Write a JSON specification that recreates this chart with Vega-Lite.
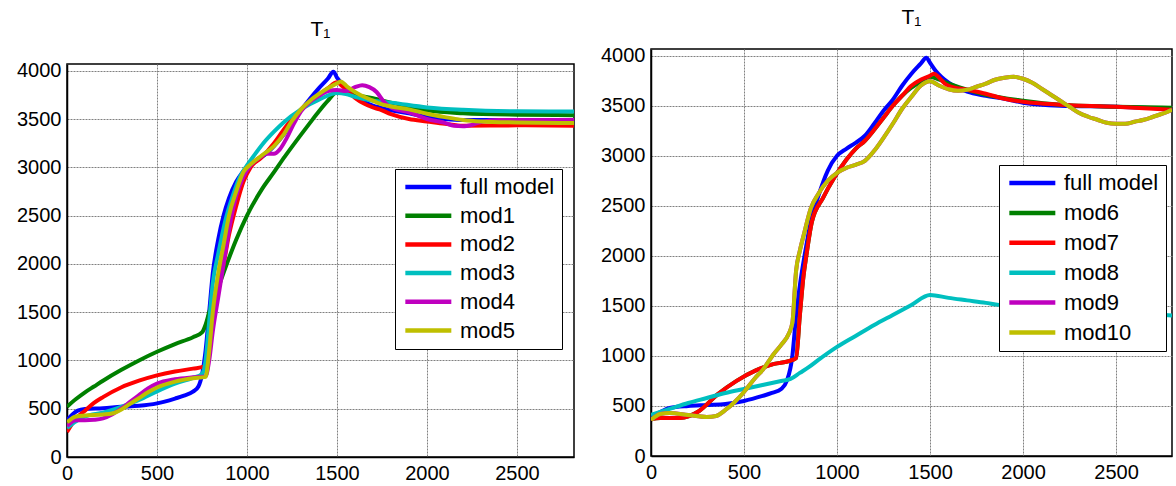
{
  "$schema": "https://vega.github.io/schema/vega-lite/v6.json",
  "padding": {"left": 15, "top": 6, "right": 0, "bottom": 0},
  "background": "white",
  "config": {
    "font": "Liberation Sans",
    "view": {"stroke": "black", "strokeWidth": 1.5},
    "axis": {"labelFont": "Liberation Sans", "labelFontSize": 20, "labelColor": "black", "domainColor": "black", "domainWidth": 1.5, "ticks": false, "labelPadding": 6, "gridColor": "#808080", "gridDash": [2, 1], "gridWidth": 1, "labelFlush": false, "labelOverlap": false, "format": "d"},
    "title": {"font": "Liberation Sans", "fontSize": 21, "fontWeight": "normal", "color": "black", "anchor": "middle"},
    "legend": {"labelFont": "Liberation Sans", "labelFontSize": 22, "labelColor": "black", "strokeColor": "black", "fillColor": "white", "padding": 7, "symbolType": "M-1,0H5", "symbolSize": 235, "symbolStrokeWidth": 4.5, "labelOffset": 36, "symbolOffset": 0, "title": null}
  },
  "spacing": 24,
  "resolve": {"scale": {"color": "independent"}, "legend": {"color": "independent"}},
  "datasets": {
    "L": [
      {"s":"full model","x":0,"y":380},{"s":"full model","x":30,"y":440},{"s":"full model","x":60,"y":480},{"s":"full model","x":100,"y":496},{"s":"full model","x":200,"y":505},{"s":"full model","x":300,"y":520},{"s":"full model","x":400,"y":530},{"s":"full model","x":500,"y":555},{"s":"full model","x":600,"y":605},{"s":"full model","x":650,"y":635},{"s":"full model","x":700,"y":677},{"s":"full model","x":730,"y":730},{"s":"full model","x":750,"y":850},{"s":"full model","x":770,"y":1100},{"s":"full model","x":790,"y":1500},{"s":"full model","x":810,"y":1900},{"s":"full model","x":840,"y":2250},{"s":"full model","x":870,"y":2500},{"s":"full model","x":900,"y":2680},{"s":"full model","x":940,"y":2850},{"s":"full model","x":980,"y":2960},{"s":"full model","x":1020,"y":3040},{"s":"full model","x":1060,"y":3080},{"s":"full model","x":1100,"y":3130},{"s":"full model","x":1150,"y":3220},{"s":"full model","x":1200,"y":3330},{"s":"full model","x":1250,"y":3460},{"s":"full model","x":1300,"y":3590},{"s":"full model","x":1350,"y":3710},{"s":"full model","x":1400,"y":3820},{"s":"full model","x":1450,"y":3920},{"s":"full model","x":1480,"y":3990},{"s":"full model","x":1500,"y":3930},{"s":"full model","x":1550,"y":3830},{"s":"full model","x":1600,"y":3740},{"s":"full model","x":1650,"y":3680},{"s":"full model","x":1700,"y":3640},{"s":"full model","x":1737,"y":3620},{"s":"full model","x":1800,"y":3590},{"s":"full model","x":1900,"y":3560},{"s":"full model","x":2000,"y":3520},{"s":"full model","x":2100,"y":3500},{"s":"full model","x":2200,"y":3490},{"s":"full model","x":2300,"y":3490},{"s":"full model","x":2500,"y":3490},{"s":"full model","x":2817,"y":3490},
      {"s":"mod1","x":0,"y":520},{"s":"mod1","x":50,"y":600},{"s":"mod1","x":100,"y":670},{"s":"mod1","x":150,"y":730},{"s":"mod1","x":200,"y":790},{"s":"mod1","x":300,"y":900},{"s":"mod1","x":400,"y":1000},{"s":"mod1","x":500,"y":1090},{"s":"mod1","x":600,"y":1170},{"s":"mod1","x":700,"y":1240},{"s":"mod1","x":750,"y":1290},{"s":"mod1","x":770,"y":1370},{"s":"mod1","x":790,"y":1500},{"s":"mod1","x":830,"y":1700},{"s":"mod1","x":880,"y":1960},{"s":"mod1","x":940,"y":2250},{"s":"mod1","x":1000,"y":2500},{"s":"mod1","x":1085,"y":2780},{"s":"mod1","x":1150,"y":2950},{"s":"mod1","x":1210,"y":3110},{"s":"mod1","x":1293,"y":3320},{"s":"mod1","x":1350,"y":3460},{"s":"mod1","x":1400,"y":3580},{"s":"mod1","x":1450,"y":3690},{"s":"mod1","x":1500,"y":3780},{"s":"mod1","x":1550,"y":3770},{"s":"mod1","x":1600,"y":3750},{"s":"mod1","x":1700,"y":3715},{"s":"mod1","x":1800,"y":3670},{"s":"mod1","x":1900,"y":3630},{"s":"mod1","x":2000,"y":3590},{"s":"mod1","x":2200,"y":3560},{"s":"mod1","x":2500,"y":3545},{"s":"mod1","x":2817,"y":3540},
      {"s":"mod2","x":0,"y":260},{"s":"mod2","x":50,"y":400},{"s":"mod2","x":100,"y":480},{"s":"mod2","x":150,"y":560},{"s":"mod2","x":200,"y":620},{"s":"mod2","x":300,"y":720},{"s":"mod2","x":400,"y":790},{"s":"mod2","x":500,"y":845},{"s":"mod2","x":600,"y":885},{"s":"mod2","x":700,"y":915},{"s":"mod2","x":760,"y":935},{"s":"mod2","x":780,"y":1000},{"s":"mod2","x":800,"y":1300},{"s":"mod2","x":830,"y":1700},{"s":"mod2","x":870,"y":2000},{"s":"mod2","x":900,"y":2300},{"s":"mod2","x":940,"y":2600},{"s":"mod2","x":980,"y":2850},{"s":"mod2","x":1020,"y":3000},{"s":"mod2","x":1080,"y":3100},{"s":"mod2","x":1150,"y":3250},{"s":"mod2","x":1200,"y":3380},{"s":"mod2","x":1250,"y":3500},{"s":"mod2","x":1300,"y":3600},{"s":"mod2","x":1350,"y":3680},{"s":"mod2","x":1400,"y":3750},{"s":"mod2","x":1450,"y":3820},{"s":"mod2","x":1500,"y":3880},{"s":"mod2","x":1530,"y":3840},{"s":"mod2","x":1600,"y":3720},{"s":"mod2","x":1650,"y":3660},{"s":"mod2","x":1700,"y":3620},{"s":"mod2","x":1737,"y":3600},{"s":"mod2","x":1800,"y":3550},{"s":"mod2","x":1900,"y":3500},{"s":"mod2","x":2000,"y":3475},{"s":"mod2","x":2100,"y":3450},{"s":"mod2","x":2200,"y":3430},{"s":"mod2","x":2500,"y":3435},{"s":"mod2","x":2817,"y":3430},
      {"s":"mod3","x":0,"y":300},{"s":"mod3","x":50,"y":370},{"s":"mod3","x":100,"y":420},{"s":"mod3","x":200,"y":460},{"s":"mod3","x":300,"y":520},{"s":"mod3","x":400,"y":590},{"s":"mod3","x":500,"y":680},{"s":"mod3","x":600,"y":760},{"s":"mod3","x":700,"y":820},{"s":"mod3","x":750,"y":860},{"s":"mod3","x":770,"y":1000},{"s":"mod3","x":790,"y":1400},{"s":"mod3","x":810,"y":1800},{"s":"mod3","x":840,"y":2100},{"s":"mod3","x":880,"y":2450},{"s":"mod3","x":920,"y":2700},{"s":"mod3","x":960,"y":2900},{"s":"mod3","x":1000,"y":3020},{"s":"mod3","x":1050,"y":3150},{"s":"mod3","x":1100,"y":3270},{"s":"mod3","x":1150,"y":3370},{"s":"mod3","x":1200,"y":3460},{"s":"mod3","x":1300,"y":3600},{"s":"mod3","x":1400,"y":3700},{"s":"mod3","x":1500,"y":3770},{"s":"mod3","x":1550,"y":3760},{"s":"mod3","x":1600,"y":3730},{"s":"mod3","x":1700,"y":3690},{"s":"mod3","x":1800,"y":3670},{"s":"mod3","x":2000,"y":3620},{"s":"mod3","x":2200,"y":3595},{"s":"mod3","x":2500,"y":3580},{"s":"mod3","x":2817,"y":3578},
      {"s":"mod4","x":0,"y":320},{"s":"mod4","x":50,"y":380},{"s":"mod4","x":100,"y":380},{"s":"mod4","x":150,"y":385},{"s":"mod4","x":200,"y":400},{"s":"mod4","x":250,"y":440},{"s":"mod4","x":300,"y":500},{"s":"mod4","x":350,"y":570},{"s":"mod4","x":400,"y":640},{"s":"mod4","x":450,"y":710},{"s":"mod4","x":500,"y":760},{"s":"mod4","x":600,"y":805},{"s":"mod4","x":700,"y":825},{"s":"mod4","x":770,"y":835},{"s":"mod4","x":790,"y":1000},{"s":"mod4","x":810,"y":1300},{"s":"mod4","x":840,"y":1650},{"s":"mod4","x":870,"y":2000},{"s":"mod4","x":900,"y":2350},{"s":"mod4","x":940,"y":2700},{"s":"mod4","x":980,"y":2900},{"s":"mod4","x":1020,"y":3020},{"s":"mod4","x":1070,"y":3100},{"s":"mod4","x":1110,"y":3140},{"s":"mod4","x":1150,"y":3140},{"s":"mod4","x":1180,"y":3180},{"s":"mod4","x":1220,"y":3300},{"s":"mod4","x":1260,"y":3450},{"s":"mod4","x":1300,"y":3580},{"s":"mod4","x":1350,"y":3680},{"s":"mod4","x":1400,"y":3740},{"s":"mod4","x":1450,"y":3790},{"s":"mod4","x":1500,"y":3800},{"s":"mod4","x":1550,"y":3790},{"s":"mod4","x":1600,"y":3830},{"s":"mod4","x":1640,"y":3850},{"s":"mod4","x":1680,"y":3830},{"s":"mod4","x":1720,"y":3780},{"s":"mod4","x":1760,"y":3680},{"s":"mod4","x":1800,"y":3620},{"s":"mod4","x":1900,"y":3570},{"s":"mod4","x":2000,"y":3500},{"s":"mod4","x":2100,"y":3460},{"s":"mod4","x":2150,"y":3430},{"s":"mod4","x":2200,"y":3425},{"s":"mod4","x":2250,"y":3440},{"s":"mod4","x":2300,"y":3470},{"s":"mod4","x":2400,"y":3490},{"s":"mod4","x":2817,"y":3490},
      {"s":"mod5","x":0,"y":360},{"s":"mod5","x":50,"y":420},{"s":"mod5","x":100,"y":430},{"s":"mod5","x":200,"y":440},{"s":"mod5","x":250,"y":450},{"s":"mod5","x":300,"y":490},{"s":"mod5","x":350,"y":550},{"s":"mod5","x":400,"y":610},{"s":"mod5","x":450,"y":670},{"s":"mod5","x":500,"y":720},{"s":"mod5","x":600,"y":780},{"s":"mod5","x":700,"y":815},{"s":"mod5","x":770,"y":830},{"s":"mod5","x":790,"y":1100},{"s":"mod5","x":810,"y":1500},{"s":"mod5","x":840,"y":1900},{"s":"mod5","x":870,"y":2200},{"s":"mod5","x":900,"y":2500},{"s":"mod5","x":940,"y":2750},{"s":"mod5","x":980,"y":2950},{"s":"mod5","x":1020,"y":3030},{"s":"mod5","x":1080,"y":3120},{"s":"mod5","x":1150,"y":3220},{"s":"mod5","x":1200,"y":3330},{"s":"mod5","x":1250,"y":3480},{"s":"mod5","x":1300,"y":3600},{"s":"mod5","x":1350,"y":3690},{"s":"mod5","x":1400,"y":3760},{"s":"mod5","x":1450,"y":3820},{"s":"mod5","x":1500,"y":3870},{"s":"mod5","x":1520,"y":3890},{"s":"mod5","x":1560,"y":3830},{"s":"mod5","x":1600,"y":3780},{"s":"mod5","x":1700,"y":3690},{"s":"mod5","x":1737,"y":3660},{"s":"mod5","x":1800,"y":3630},{"s":"mod5","x":1900,"y":3600},{"s":"mod5","x":2000,"y":3555},{"s":"mod5","x":2100,"y":3520},{"s":"mod5","x":2200,"y":3490},{"s":"mod5","x":2300,"y":3475},{"s":"mod5","x":2500,"y":3465},{"s":"mod5","x":2817,"y":3458}
    ],
    "R": [
      {"s":"full model","x":0,"y":390},{"s":"full model","x":50,"y":440},{"s":"full model","x":100,"y":480},{"s":"full model","x":200,"y":500},{"s":"full model","x":300,"y":510},{"s":"full model","x":400,"y":520},{"s":"full model","x":500,"y":550},{"s":"full model","x":600,"y":600},{"s":"full model","x":650,"y":630},{"s":"full model","x":700,"y":670},{"s":"full model","x":730,"y":750},{"s":"full model","x":760,"y":1000},{"s":"full model","x":780,"y":1400},{"s":"full model","x":800,"y":1700},{"s":"full model","x":830,"y":2050},{"s":"full model","x":860,"y":2350},{"s":"full model","x":900,"y":2600},{"s":"full model","x":950,"y":2850},{"s":"full model","x":1000,"y":3000},{"s":"full model","x":1050,"y":3070},{"s":"full model","x":1100,"y":3130},{"s":"full model","x":1150,"y":3200},{"s":"full model","x":1200,"y":3320},{"s":"full model","x":1250,"y":3450},{"s":"full model","x":1300,"y":3560},{"s":"full model","x":1350,"y":3700},{"s":"full model","x":1400,"y":3820},{"s":"full model","x":1450,"y":3920},{"s":"full model","x":1480,"y":3980},{"s":"full model","x":1500,"y":3930},{"s":"full model","x":1530,"y":3850},{"s":"full model","x":1560,"y":3790},{"s":"full model","x":1600,"y":3730},{"s":"full model","x":1650,"y":3680},{"s":"full model","x":1700,"y":3640},{"s":"full model","x":1800,"y":3600},{"s":"full model","x":1900,"y":3570},{"s":"full model","x":2000,"y":3530},{"s":"full model","x":2200,"y":3500},{"s":"full model","x":2500,"y":3490},{"s":"full model","x":2801,"y":3470},
      {"s":"mod6","x":0,"y":370},{"s":"mod6","x":50,"y":380},{"s":"mod6","x":100,"y":380},{"s":"mod6","x":156,"y":380},{"s":"mod6","x":257,"y":447},{"s":"mod6","x":358,"y":616},{"s":"mod6","x":460,"y":751},{"s":"mod6","x":561,"y":853},{"s":"mod6","x":662,"y":920},{"s":"mod6","x":750,"y":954},{"s":"mod6","x":780,"y":980},{"s":"mod6","x":800,"y":1400},{"s":"mod6","x":820,"y":1800},{"s":"mod6","x":835,"y":2000},{"s":"mod6","x":865,"y":2340},{"s":"mod6","x":925,"y":2580},{"s":"mod6","x":985,"y":2780},{"s":"mod6","x":1050,"y":2960},{"s":"mod6","x":1100,"y":3070},{"s":"mod6","x":1150,"y":3150},{"s":"mod6","x":1200,"y":3260},{"s":"mod6","x":1250,"y":3380},{"s":"mod6","x":1300,"y":3500},{"s":"mod6","x":1350,"y":3600},{"s":"mod6","x":1400,"y":3680},{"s":"mod6","x":1450,"y":3740},{"s":"mod6","x":1500,"y":3790},{"s":"mod6","x":1550,"y":3760},{"s":"mod6","x":1600,"y":3720},{"s":"mod6","x":1700,"y":3660},{"s":"mod6","x":1800,"y":3610},{"s":"mod6","x":2000,"y":3550},{"s":"mod6","x":2200,"y":3510},{"s":"mod6","x":2500,"y":3490},{"s":"mod6","x":2801,"y":3480},
      {"s":"mod7","x":0,"y":370},{"s":"mod7","x":50,"y":380},{"s":"mod7","x":100,"y":380},{"s":"mod7","x":156,"y":380},{"s":"mod7","x":257,"y":447},{"s":"mod7","x":358,"y":616},{"s":"mod7","x":460,"y":751},{"s":"mod7","x":561,"y":853},{"s":"mod7","x":662,"y":920},{"s":"mod7","x":750,"y":954},{"s":"mod7","x":780,"y":980},{"s":"mod7","x":800,"y":1400},{"s":"mod7","x":820,"y":1800},{"s":"mod7","x":835,"y":2000},{"s":"mod7","x":865,"y":2340},{"s":"mod7","x":925,"y":2580},{"s":"mod7","x":985,"y":2780},{"s":"mod7","x":1050,"y":2960},{"s":"mod7","x":1100,"y":3070},{"s":"mod7","x":1150,"y":3150},{"s":"mod7","x":1200,"y":3260},{"s":"mod7","x":1250,"y":3380},{"s":"mod7","x":1300,"y":3500},{"s":"mod7","x":1350,"y":3600},{"s":"mod7","x":1400,"y":3700},{"s":"mod7","x":1450,"y":3760},{"s":"mod7","x":1500,"y":3800},{"s":"mod7","x":1520,"y":3820},{"s":"mod7","x":1550,"y":3780},{"s":"mod7","x":1580,"y":3720},{"s":"mod7","x":1600,"y":3700},{"s":"mod7","x":1700,"y":3660},{"s":"mod7","x":1800,"y":3620},{"s":"mod7","x":1900,"y":3570},{"s":"mod7","x":2000,"y":3540},{"s":"mod7","x":2200,"y":3510},{"s":"mod7","x":2500,"y":3490},{"s":"mod7","x":2700,"y":3470},{"s":"mod7","x":2801,"y":3460},
      {"s":"mod8","x":0,"y":410},{"s":"mod8","x":100,"y":470},{"s":"mod8","x":200,"y":530},{"s":"mod8","x":300,"y":580},{"s":"mod8","x":400,"y":630},{"s":"mod8","x":500,"y":670},{"s":"mod8","x":600,"y":710},{"s":"mod8","x":700,"y":750},{"s":"mod8","x":750,"y":770},{"s":"mod8","x":800,"y":830},{"s":"mod8","x":850,"y":890},{"s":"mod8","x":900,"y":960},{"s":"mod8","x":1000,"y":1090},{"s":"mod8","x":1100,"y":1200},{"s":"mod8","x":1200,"y":1310},{"s":"mod8","x":1300,"y":1410},{"s":"mod8","x":1400,"y":1510},{"s":"mod8","x":1500,"y":1610},{"s":"mod8","x":1600,"y":1580},{"s":"mod8","x":1700,"y":1555},{"s":"mod8","x":1800,"y":1530},{"s":"mod8","x":1870,"y":1510},{"s":"mod8","x":2000,"y":1490},{"s":"mod8","x":2200,"y":1460},{"s":"mod8","x":2500,"y":1430},{"s":"mod8","x":2801,"y":1405},
      {"s":"mod9","x":0,"y":360},{"s":"mod9","x":50,"y":420},{"s":"mod9","x":100,"y":430},{"s":"mod9","x":200,"y":410},{"s":"mod9","x":300,"y":390},{"s":"mod9","x":350,"y":400},{"s":"mod9","x":400,"y":460},{"s":"mod9","x":450,"y":540},{"s":"mod9","x":500,"y":640},{"s":"mod9","x":560,"y":780},{"s":"mod9","x":600,"y":860},{"s":"mod9","x":660,"y":1020},{"s":"mod9","x":700,"y":1110},{"s":"mod9","x":740,"y":1220},{"s":"mod9","x":760,"y":1330},{"s":"mod9","x":780,"y":1850},{"s":"mod9","x":800,"y":2050},{"s":"mod9","x":820,"y":2200},{"s":"mod9","x":860,"y":2480},{"s":"mod9","x":900,"y":2620},{"s":"mod9","x":950,"y":2750},{"s":"mod9","x":1000,"y":2830},{"s":"mod9","x":1050,"y":2880},{"s":"mod9","x":1100,"y":2910},{"s":"mod9","x":1150,"y":2950},{"s":"mod9","x":1200,"y":3050},{"s":"mod9","x":1250,"y":3180},{"s":"mod9","x":1300,"y":3320},{"s":"mod9","x":1350,"y":3470},{"s":"mod9","x":1400,"y":3590},{"s":"mod9","x":1450,"y":3700},{"s":"mod9","x":1500,"y":3745},{"s":"mod9","x":1550,"y":3700},{"s":"mod9","x":1600,"y":3665},{"s":"mod9","x":1650,"y":3650},{"s":"mod9","x":1700,"y":3660},{"s":"mod9","x":1750,"y":3690},{"s":"mod9","x":1800,"y":3720},{"s":"mod9","x":1850,"y":3760},{"s":"mod9","x":1900,"y":3780},{"s":"mod9","x":1950,"y":3790},{"s":"mod9","x":2000,"y":3770},{"s":"mod9","x":2050,"y":3730},{"s":"mod9","x":2100,"y":3670},{"s":"mod9","x":2150,"y":3610},{"s":"mod9","x":2200,"y":3550},{"s":"mod9","x":2250,"y":3490},{"s":"mod9","x":2300,"y":3430},{"s":"mod9","x":2350,"y":3390},{"s":"mod9","x":2400,"y":3360},{"s":"mod9","x":2450,"y":3330},{"s":"mod9","x":2500,"y":3320},{"s":"mod9","x":2550,"y":3320},{"s":"mod9","x":2600,"y":3340},{"s":"mod9","x":2650,"y":3360},{"s":"mod9","x":2700,"y":3390},{"s":"mod9","x":2750,"y":3420},{"s":"mod9","x":2801,"y":3460},
      {"s":"mod10","x":0,"y":360},{"s":"mod10","x":50,"y":420},{"s":"mod10","x":100,"y":430},{"s":"mod10","x":200,"y":410},{"s":"mod10","x":300,"y":390},{"s":"mod10","x":350,"y":400},{"s":"mod10","x":400,"y":460},{"s":"mod10","x":450,"y":540},{"s":"mod10","x":500,"y":640},{"s":"mod10","x":560,"y":780},{"s":"mod10","x":600,"y":860},{"s":"mod10","x":660,"y":1020},{"s":"mod10","x":700,"y":1110},{"s":"mod10","x":740,"y":1220},{"s":"mod10","x":760,"y":1330},{"s":"mod10","x":780,"y":1850},{"s":"mod10","x":800,"y":2050},{"s":"mod10","x":820,"y":2200},{"s":"mod10","x":860,"y":2480},{"s":"mod10","x":900,"y":2620},{"s":"mod10","x":950,"y":2750},{"s":"mod10","x":1000,"y":2830},{"s":"mod10","x":1050,"y":2880},{"s":"mod10","x":1100,"y":2910},{"s":"mod10","x":1150,"y":2950},{"s":"mod10","x":1200,"y":3050},{"s":"mod10","x":1250,"y":3180},{"s":"mod10","x":1300,"y":3320},{"s":"mod10","x":1350,"y":3470},{"s":"mod10","x":1400,"y":3590},{"s":"mod10","x":1450,"y":3700},{"s":"mod10","x":1500,"y":3745},{"s":"mod10","x":1550,"y":3700},{"s":"mod10","x":1600,"y":3665},{"s":"mod10","x":1650,"y":3650},{"s":"mod10","x":1700,"y":3660},{"s":"mod10","x":1750,"y":3690},{"s":"mod10","x":1800,"y":3720},{"s":"mod10","x":1850,"y":3760},{"s":"mod10","x":1900,"y":3780},{"s":"mod10","x":1950,"y":3790},{"s":"mod10","x":2000,"y":3770},{"s":"mod10","x":2050,"y":3730},{"s":"mod10","x":2100,"y":3670},{"s":"mod10","x":2150,"y":3610},{"s":"mod10","x":2200,"y":3550},{"s":"mod10","x":2250,"y":3490},{"s":"mod10","x":2300,"y":3430},{"s":"mod10","x":2350,"y":3390},{"s":"mod10","x":2400,"y":3360},{"s":"mod10","x":2450,"y":3330},{"s":"mod10","x":2500,"y":3320},{"s":"mod10","x":2550,"y":3320},{"s":"mod10","x":2600,"y":3340},{"s":"mod10","x":2650,"y":3360},{"s":"mod10","x":2700,"y":3390},{"s":"mod10","x":2750,"y":3420},{"s":"mod10","x":2801,"y":3460}
    ]
  },
  "hconcat": [
    {
      "spacing": 0,
      "vconcat": [
        {
          "width": 507,
          "height": 11,
          "view": {"stroke": null},
          "title": {"text": "T₁", "offset": 8.6},
          "data": {"values": []},
          "mark": "point"
        },
        {
          "width": 507,
          "height": 393,
          "data": {"name": "L"},
          "mark": {"type": "line", "strokeWidth": 4, "interpolate": "monotone", "strokeJoin": "round", "clip": true},
          "encoding": {
            "x": {"field": "x", "type": "quantitative", "scale": {"domain": [0, 2817], "nice": false, "zero": false}, "axis": {"title": null, "values": [0, 500, 1000, 1500, 2000, 2500]}},
            "y": {"field": "y", "type": "quantitative", "scale": {"domain": [0, 4070], "nice": false}, "axis": {"title": null, "values": [0, 500, 1000, 1500, 2000, 2500, 3000, 3500, 4000]}},
            "color": {"field": "s", "type": "nominal", "scale": {"domain": ["full model", "mod1", "mod2", "mod3", "mod4", "mod5"], "range": ["#0000FF", "#008000", "#FF0000", "#00BFBF", "#BF00BF", "#BFBF00"]}, "legend": {"orient": "none", "legendX": 328, "legendY": 120, "rowPadding": 6.7}}
          }
        }
      ]
    },
    {
      "width": 521,
      "height": 407,
      "title": {"text": "T₁", "offset": 17.3},
      "data": {"name": "R"},
      "mark": {"type": "line", "strokeWidth": 4, "interpolate": "monotone", "strokeJoin": "round", "clip": true},
      "encoding": {
        "x": {"field": "x", "type": "quantitative", "scale": {"domain": [0, 2801], "nice": false, "zero": false}, "axis": {"title": null, "values": [0, 500, 1000, 1500, 2000, 2500]}},
        "y": {"field": "y", "type": "quantitative", "scale": {"domain": [0, 4067], "nice": false}, "axis": {"title": null, "values": [0, 500, 1000, 1500, 2000, 2500, 3000, 3500, 4000]}},
        "color": {"field": "s", "type": "nominal", "scale": {"domain": ["full model", "mod6", "mod7", "mod8", "mod9", "mod10"], "range": ["#0000FF", "#008000", "#FF0000", "#00BFBF", "#BF00BF", "#BFBF00"]}, "legend": {"orient": "none", "legendX": 348, "legendY": 116, "rowPadding": 7.9}}
      }
    }
  ]
}
